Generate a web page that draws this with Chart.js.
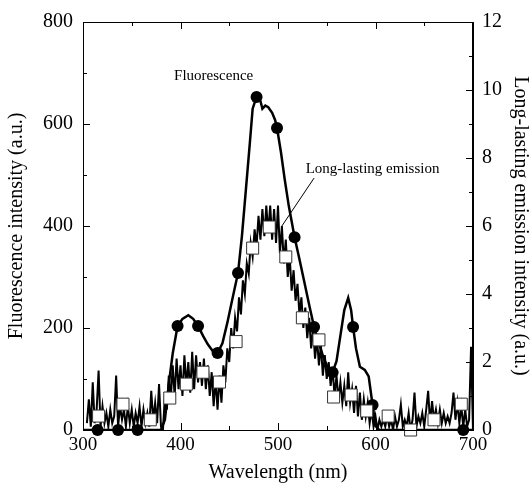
<!DOCTYPE html>
<html>
<head>
<meta charset="utf-8">
<script src="https://cdn.jsdelivr.net/npm/chart.js@4.4.1/dist/chart.umd.min.js"></script>
<style>
  body { margin: 0; background: #fff; }
  canvas { display: block; }
</style>
</head>
<body>
<canvas id="chart" width="532" height="486" style="width:532px;height:486px"></canvas>
<script>
// fluorescence spectrum (left axis)
const fluorX = [300, 310, 320, 330, 340, 350, 360, 370, 380, 384, 388, 392, 397, 402, 408, 413, 418, 423, 428, 433, 438, 443, 448, 453, 459, 463, 467, 471, 474, 478, 482, 484, 487, 490, 494, 497, 499, 503, 507, 511, 517, 522, 527, 532, 537, 542, 547, 552, 556, 560, 564, 568, 572, 575, 577, 580, 584, 589, 593, 597, 600, 604, 650, 700];
const fluorY = [0, 0, 0, 0, 0, 0, 0, 0, 0, 20, 90, 150, 204, 218, 225, 218, 204, 185, 168, 155, 151, 170, 210, 255, 308, 380, 470, 560, 630, 653, 645, 630, 636, 633, 622, 608, 592, 545, 490, 440, 378, 335, 290, 245, 202, 170, 140, 118, 113, 135, 185, 235, 259, 235, 202, 160, 124, 118, 105, 49, 8, 0, 0, 0];
const fluorMarkX = [315, 336, 356, 397, 418, 438, 459, 478, 499, 517, 537, 556, 577, 597, 690];
const fluorMarkY = [0, 0, 0, 204, 204, 151, 308, 653, 592, 378, 202, 113, 202, 49, 0];

// long-lasting emission spectrum (right axis), every 2 nm from 304 nm
const emisStart = 304;
const emisY = [
  0.2, 0.9, 0.1, 1.4, 0.2, 0.6, 1.75, 0.1, 0.7, 0.2,
  0.5, 0.1, 0.6, 0.2, 0.4, 1.6, 0.1, 0.7, 0.3, 0.6,
  0.1, 0.7, 0.2, 0.6, 0.1, 0.5, 0.2, 0.7, 0.1, 0.6,
  0.2, 0.5, 0.1, 1.15, 0.3, 0.8, 0.2, 1.35, 0.1, 0.0,
  1.0, 0.6, 1.6, 0.9, 1.9, 1.0, 2.1, 1.2, 1.9, 1.0,
  2.2, 1.3, 2.0, 1.1, 2.3, 1.2, 2.2, 1.4, 2.0, 1.3,
  2.1, 1.2, 1.9, 1.0, 1.7, 0.7, 1.5, 0.6, 1.6, 0.8,
  1.9, 1.4, 2.4, 2.0, 3.0, 2.4, 3.3, 2.9, 3.9, 3.4,
  4.4, 4.0, 4.9, 4.6, 5.5, 5.1, 5.9, 5.4, 6.3, 5.6,
  6.5, 5.7, 6.6, 5.8, 6.6, 5.6, 6.5, 5.5, 6.6, 5.2,
  6.0, 4.9, 5.6, 4.5, 5.1, 4.1, 4.7, 3.8, 4.3, 3.4,
  3.9, 3.0, 3.6, 2.7, 3.3, 2.4, 3.0, 2.1, 2.7, 1.9,
  2.5, 1.6, 2.2, 1.5, 2.0, 1.3, 1.8, 1.0, 1.6, 0.9,
  1.4, 0.8, 1.3, 0.7, 1.7, 0.8, 1.2, 0.5, 1.3, 0.4,
  1.1, 0.3, 0.9, 0.4, 0.8, 0.2, 0.6, 0.1, 0.4, 0.0,
  0.3, 0.1, 0.3, 0.1, 0.4, 0.1, 0.3, 0.0, 0.4, 0.1,
  0.3, 0.75, 0.1, 0.3, 0.1, 0.5, 0.0, 0.3, 1.1, 0.1,
  0.4, 0.2, 0.5, 0.1, 0.6, 1.15, 0.2, 0.85, 0.3, 0.6,
  0.2, 0.6, 0.2, 0.5, 0.2, 0.4, 0.2, 0.5, 1.1, 0.3,
  0.8, 0.2, 0.7, 0.1, 0.6, 0.1, 0.3, 2.45, 0.0
];
const emisMarkX = [316, 341, 369, 389, 406, 423, 440, 457, 474, 491, 508, 525, 542, 557, 575, 591, 613, 636, 660, 688];
const emisMarkY = [0.41, 0.76, 0.3, 0.94, 1.35, 1.7, 1.41, 2.6, 5.35, 5.97, 5.09, 3.3, 2.65, 0.97, 1.03, 0.56, 0.41, 0, 0.3, 0.76];

// annotation texts, placed in data units of x / left axis
const noteText = ['Fluorescence', 'Long-lasting emission'];
const noteX = [434, 597];
const noteY = [694, 512];
const pointerX = [537, 504];
const pointerY = [494, 400];

const serif = "'Liberation Serif', 'Times New Roman', serif";

function pairs(xs, ys) {
  return xs.map((x, i) => ({ x: x, y: ys[i] }));
}
const emisData = emisY.map((v, i) => ({ x: emisStart + i * 2, y: v }));

// inward tick marks, frame and notes
const extras = {
  id: 'extras',
  afterDraw(chart) {
    const c = chart.ctx;
    const a = chart.chartArea;
    const sx = chart.scales.x, sy = chart.scales.y, sy2 = chart.scales.y2;
    c.save();
    c.strokeStyle = '#000';
    c.lineWidth = 1;
    c.strokeRect(a.left + 0.5, a.top + 0.5, a.right - a.left - 1, a.bottom - a.top);
    c.beginPath();
    for (let v = 300; v <= 700; v += 50) {
      const px = Math.round(sx.getPixelForValue(v)) + 0.5;
      const len = v % 100 === 0 ? 7 : 4;
      c.moveTo(px, a.bottom); c.lineTo(px, a.bottom - len);
      c.moveTo(px, a.top); c.lineTo(px, a.top + len);
    }
    for (let v = 0; v <= 800; v += 100) {
      const py = Math.round(sy.getPixelForValue(v)) + 0.5;
      const len = v % 200 === 0 ? 7 : 4;
      c.moveTo(a.left, py); c.lineTo(a.left + len, py);
    }
    for (let v = 0; v <= 12; v += 1) {
      const py = Math.round(sy2.getPixelForValue(v)) + 0.5;
      const len = v % 2 === 0 ? 7 : 4;
      c.moveTo(a.right, py); c.lineTo(a.right - len, py);
    }
    c.stroke();

    c.beginPath();
    c.moveTo(sx.getPixelForValue(pointerX[0]), sy.getPixelForValue(pointerY[0]));
    c.lineTo(sx.getPixelForValue(pointerX[1]), sy.getPixelForValue(pointerY[1]));
    c.stroke();

    c.fillStyle = '#000';
    c.font = '15px ' + serif;
    c.textAlign = 'center';
    c.textBaseline = 'middle';
    noteText.forEach((t, i) => {
      c.fillText(t, sx.getPixelForValue(noteX[i]), sy.getPixelForValue(noteY[i]));
    });
    c.restore();
  }
};

new Chart(document.getElementById('chart'), {
  type: 'line',
  data: {
    datasets: [
      {
        data: pairs(emisMarkX, emisMarkY), yAxisID: 'y2', showLine: false, order: 0,
        pointStyle: 'rect', pointRadius: 8.5, pointBackgroundColor: '#fff',
        pointBorderColor: '#333', pointBorderWidth: 1, clip: false
      },
      {
        data: pairs(fluorMarkX, fluorMarkY), yAxisID: 'y', showLine: false, order: 1,
        pointStyle: 'circle', pointRadius: 6, pointBackgroundColor: '#000',
        pointBorderColor: '#000', pointBorderWidth: 0, clip: false
      },
      {
        data: pairs(fluorX, fluorY), yAxisID: 'y', order: 2,
        borderColor: '#000', borderWidth: 2.5, pointRadius: 0, tension: 0
      },
      {
        data: emisData, yAxisID: 'y2', order: 3,
        borderColor: '#000', borderWidth: 2, pointRadius: 0, tension: 0
      }
    ]
  },
  options: {
    responsive: false,
    animation: false,
    layout: { padding: { top: 22 } },
    plugins: { legend: { display: false }, tooltip: { enabled: false } },
    scales: {
      x: {
        type: 'linear', min: 300, max: 700,
        ticks: { stepSize: 100, color: '#000', font: { family: serif, size: 19 }, padding: 4 },
        grid: { display: false, drawTicks: false },
        border: { color: '#000' },
        title: { display: true, text: 'Wavelength (nm)', color: '#000', font: { family: serif, size: 20 }, padding: { top: 0, bottom: 1 } },
        afterFit: s => { s.height = 56; }
      },
      y: {
        position: 'left', min: 0, max: 800,
        ticks: { stepSize: 200, color: '#000', font: { family: serif, size: 20 }, padding: 10 },
        grid: { display: false, drawTicks: false },
        border: { color: '#000' },
        title: { display: true, text: 'Fluorescence intensity (a.u.)', color: '#000', font: { family: serif, size: 20 }, padding: { top: 5, bottom: 0 } },
        afterFit: s => { s.width = 83; }
      },
      y2: {
        position: 'right', min: 0, max: 12,
        ticks: { stepSize: 2, color: '#000', font: { family: serif, size: 20 }, padding: 9 },
        grid: { display: false, drawTicks: false },
        border: { color: '#000' },
        title: { display: true, text: 'Long-lasting emission intensity (a.u.)', color: '#000', font: { family: serif, size: 20 }, padding: { top: 0, bottom: 0 } },
        afterFit: s => { s.width = 59; }
      }
    }
  },
  plugins: [extras]
});
</script>
</body>
</html>
